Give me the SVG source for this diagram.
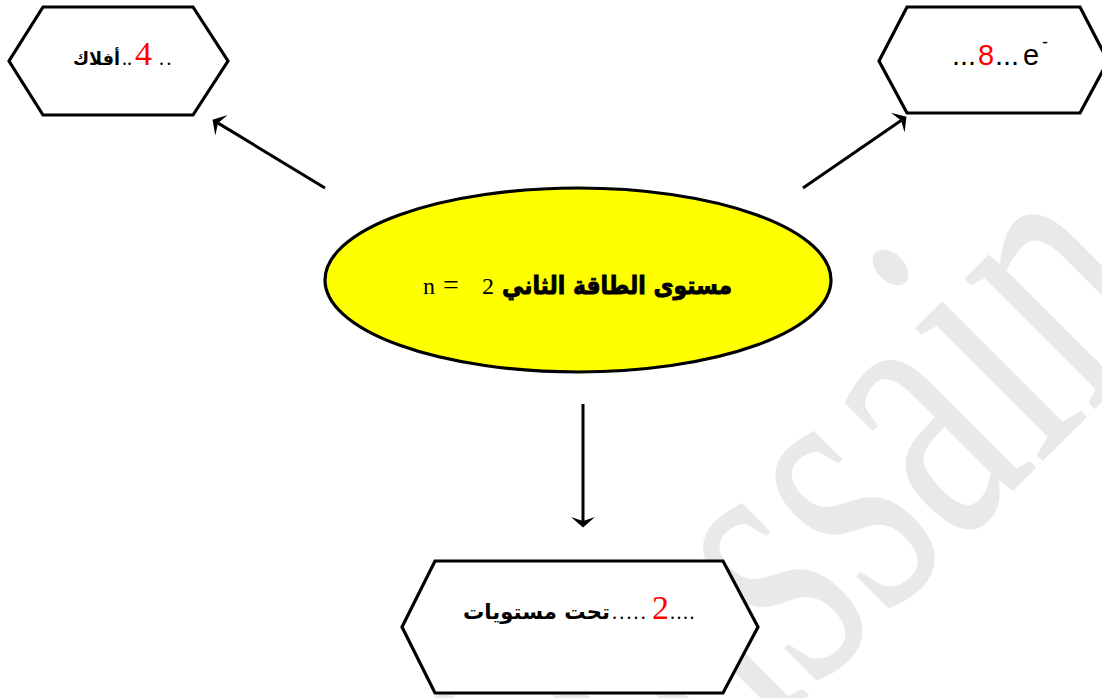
<svg xmlns="http://www.w3.org/2000/svg" width="1102" height="698" viewBox="0 0 1102 698">
<defs>
<style>
.hex{fill:#ffffff;stroke:#000000;stroke-width:3.2;stroke-linejoin:miter}
.conn{stroke:#000000;stroke-width:3;fill:none}
.ar{font-family:"DejaVu Sans",sans-serif;font-weight:bold;fill:#000000}
.serif{font-family:"Liberation Serif","Times New Roman",serif}
.sans{font-family:"Liberation Sans",Arial,sans-serif}
.red{fill:#ff0000}
.dots{font-family:"Liberation Serif",serif;font-size:20px;fill:#000000}
</style>
<marker id="ah" viewBox="0 -13 11 26" refX="4" refY="0" markerWidth="11" markerHeight="26" markerUnits="userSpaceOnUse" orient="auto">
<path d="M0,-12 L10.5,0 L0,12 L4,0 z" fill="#000000"/>
</marker>
</defs>
<rect x="0" y="0" width="1102" height="698" fill="#ffffff"/>
<g id="watermark">
<text transform="rotate(-45) translate(-236,1063.5) scale(1,1.53)" x="0" y="0" font-family="Liberation Serif, serif" font-size="262.6" fill="#e9e9e9">Hussain</text>
</g>
<g id="connectors">
<line class="conn" x1="325" y1="188" x2="218.1" y2="123.1" marker-end="url(#ah)"/>
<line class="conn" x1="803" y1="188" x2="901.1" y2="120.4" marker-end="url(#ah)"/>
<line class="conn" x1="583" y1="404" x2="583" y2="521" marker-end="url(#ah)"/>
</g>
<g id="node-center">
<ellipse cx="578" cy="280" rx="253" ry="92" fill="#ffff00" stroke="#000000" stroke-width="3.2"/>
<text class="serif" font-size="24" y="294"><tspan x="423">n</tspan><tspan x="443" font-size="28">=</tspan><tspan x="482">2</tspan></text>
<text class="ar" font-size="25" x="502" y="294" stroke="#000000" stroke-width="0.9" textLength="230" lengthAdjust="spacingAndGlyphs">مستوى الطاقة الثاني</text>
</g>
<g id="node-orbits">
<polygon class="hex" points="43,7 193,7 228,61 193,115 43,115 9,61"/>
<text class="ar" font-size="18" x="73" y="65" textLength="47" lengthAdjust="spacingAndGlyphs">أفلاك</text>
<text class="dots" x="122" y="65">..</text>
<text class="serif red" font-size="34" x="135" y="65">4</text>
<text class="dots" x="159" y="65" letter-spacing="2.5">..</text>
</g>
<g id="node-electrons">
<polygon class="hex" points="907,7 1080,7 1108,61 1080,113 907,113 879,61"/>
<text class="sans" font-size="29" y="65"><tspan x="952">...</tspan><tspan x="978" fill="#ff0000">8</tspan><tspan x="995">...</tspan><tspan x="1023">e</tspan></text>
<text class="sans" font-size="18" x="1042" y="48">-</text>
</g>
<g id="node-sublevels">
<polygon class="hex" points="435,561 723,561 758,627 723,693 435,693 402,627"/>
<text class="ar" font-size="21" x="463" y="619" textLength="147" lengthAdjust="spacingAndGlyphs">تحت مستويات</text>
<text class="dots" x="612" y="619" letter-spacing="2.2">.....</text>
<text class="serif red" font-size="34" x="652" y="619">2</text>
<text class="dots" x="670" y="619" letter-spacing="1.5">....</text>
</g>
</svg>
